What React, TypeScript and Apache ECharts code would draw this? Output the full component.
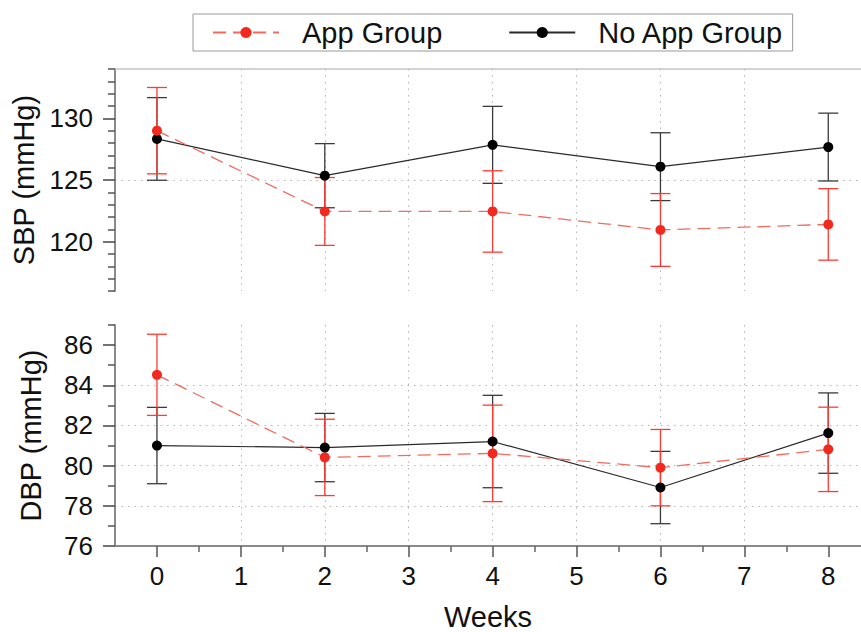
import { useEffect, useRef } from 'react';
import * as echarts from 'echarts';

const weeks = [0, 2, 4, 6, 8];
const sbpApp = [129.0, 122.45, 122.45, 120.95, 121.4];
const sbpAppErr = [3.5, 2.75, 3.3, 2.95, 2.9];
const sbpNoApp = [128.33, 125.35, 127.85, 126.08, 127.67];
const sbpNoAppErr = [3.35, 2.6, 3.12, 2.75, 2.75];
const dbpApp = [84.52, 80.41, 80.61, 79.9, 80.81];
const dbpAppErr = [2.02, 1.9, 2.4, 1.9, 2.1];
const dbpNoApp = [81.0, 80.9, 81.2, 78.91, 81.62];
const dbpNoAppErr = [1.9, 1.7, 2.3, 1.8, 2.0];

const xTicks = [0, 1, 2, 3, 4, 5, 6, 7, 8];
const xMinorTicks = [0.5, 1.5, 2.5, 3.5, 4.5, 5.5, 6.5, 7.5];
const sbpTicks = [120, 125, 130];
const sbpMinorTicks = [116, 117, 118, 119, 121, 122, 123, 124, 126, 127, 128, 129, 131, 132, 133, 134];
const dbpTicks = [76, 78, 80, 82, 84, 86];
const dbpMinorTicks = [77, 79, 81, 83, 85, 87];

const RED = '#f2291e';
const RED_LINE = '#f36a5f';
const RED_BAR = '#ff3a30';
const BLACK = '#000000';
const BLACK_LINE = '#2a2a2a';
const BLACK_BAR = '#3a3a3a';
const FONT = "'Liberation Sans', Arial, Helvetica, sans-serif";

function pairs(xs: number[], ys: number[]) {
  return xs.map((x, i) => [x, ys[i]]);
}
function bars(xs: number[], ys: number[], es: number[]) {
  return xs.map((x, i) => [x, ys[i] - es[i], ys[i] + es[i]]);
}

function errorSeries(name: string, data: number[][], color: string, xi: number, yi: number) {
  return {
    name,
    type: 'custom',
    xAxisIndex: xi,
    yAxisIndex: yi,
    data,
    encode: { x: 0, y: [1, 2] },
    z: 2,
    silent: true,
    renderItem: (_params: any, api: any) => {
      const x = api.value(0);
      const lo = api.coord([x, api.value(1)]);
      const hi = api.coord([x, api.value(2)]);
      const hw = 10;
      const style = { stroke: color, lineWidth: 1.3, fill: 'none' };
      return {
        type: 'group',
        children: [
          { type: 'line', shape: { x1: lo[0], y1: lo[1], x2: hi[0], y2: hi[1] }, style },
          { type: 'line', shape: { x1: lo[0] - hw, y1: lo[1], x2: lo[0] + hw, y2: lo[1] }, style },
          { type: 'line', shape: { x1: hi[0] - hw, y1: hi[1], x2: hi[0] + hw, y2: hi[1] }, style },
        ],
      };
    },
  };
}

function lineSeries(name: string, data: number[][], color: string, lineColor: string, dashed: boolean, xi: number, yi: number) {
  return {
    name,
    type: 'line',
    xAxisIndex: xi,
    yAxisIndex: yi,
    data,
    symbol: 'circle',
    symbolSize: 10,
    z: 3,
    itemStyle: { color },
    lineStyle: { color: lineColor, width: dashed ? 1.3 : 1.2, type: dashed ? [13, 7] : 'solid' },
  };
}

const gridSplit = { show: true, lineStyle: { color: '#b5b5b5', width: 1, type: [1.5, 5] }, showMinLine: false, showMaxLine: false };

export default function App() {
  const ref = useRef<HTMLDivElement>(null);
  useEffect(() => {
    if (!ref.current) return;
    const chart = echarts.init(ref.current, null, { renderer: 'svg' });
    const majorY = (ticks: number[]) => ({
      show: true,
      inside: false,
      length: 12,
      lineStyle: { color: '#444', width: 1.5 },
      customValues: ticks,
    });
    const minorY = (ticks: number[]) => ({
      show: true,
      inside: false,
      length: 7,
      lineStyle: { color: '#555', width: 1.5 },
      customValues: ticks,
    });
    const option: any = {
      animation: false,
      backgroundColor: '#ffffff',
      textStyle: { fontFamily: FONT },
      legend: {
        left: 193,
        top: 14,
        orient: 'horizontal',
        data: ['App Group', 'No App Group'],
        padding: [4, 9, 4, 19],
        itemGap: 66,
        itemWidth: 66,
        itemHeight: 14,
        borderColor: '#9a9a9a',
        borderWidth: 1,
        backgroundColor: '#ffffff',
        selectedMode: false,
        textStyle: { fontSize: 29, color: '#111', fontFamily: FONT, padding: [0, 8, 0, 18] },
      },
      grid: [
        { left: 115, top: 69, right: 0, height: 222 },
        { left: 115, top: 325, right: 0, height: 223 },
      ],
      xAxis: [
        {
          type: 'value',
          gridIndex: 0,
          position: 'top',
          min: -0.5,
          max: 8.39,
          splitNumber: 9,
          axisLine: { show: true, onZero: false, lineStyle: { color: '#c4c4c4', width: 1.5 } },
          axisTick: { show: false, customValues: xTicks },
          axisLabel: { show: false },
          splitLine: gridSplit,
        },
        {
          type: 'value',
          gridIndex: 1,
          position: 'bottom',
          min: -0.5,
          max: 8.39,
          splitNumber: 9,
          name: 'Weeks',
          nameLocation: 'middle',
          nameGap: 56,
          nameTextStyle: { fontSize: 29, color: '#111', fontFamily: FONT },
          axisLine: { show: true, onZero: false, lineStyle: { color: '#8a8a8a', width: 2 } },
          axisTick: { show: true, length: 11, lineStyle: { color: '#555', width: 1.5 }, customValues: xTicks },
          axisLabel: { show: true, fontSize: 26, color: '#111', margin: 17, fontFamily: FONT, customValues: xTicks },
          splitLine: gridSplit,
        },
        {
          type: 'value',
          gridIndex: 1,
          position: 'bottom',
          min: -0.5,
          max: 8.39,
          axisLine: { show: false, onZero: false },
          axisTick: { show: true, length: 6, lineStyle: { color: '#666', width: 1.5 }, customValues: xMinorTicks },
          axisLabel: { show: false },
          splitLine: { show: false },
        },
      ],
      yAxis: [
        {
          type: 'value',
          gridIndex: 0,
          position: 'left',
          min: 116,
          max: 134,
          splitNumber: 4,
          name: 'SBP (mmHg)',
          nameLocation: 'middle',
          nameGap: 70,
          nameTextStyle: { fontSize: 29, color: '#111', fontFamily: FONT },
          axisLine: { show: true, onZero: false, lineStyle: { color: '#8a8a8a', width: 2 } },
          axisTick: majorY(sbpTicks),
          axisLabel: { show: true, fontSize: 26, color: '#111', margin: 22, fontFamily: FONT, customValues: sbpTicks },
          splitLine: gridSplit,
        },
        {
          type: 'value',
          gridIndex: 1,
          position: 'left',
          min: 76,
          max: 87,
          splitNumber: 5,
          name: 'DBP (mmHg)',
          nameLocation: 'middle',
          nameGap: 70,
          nameTextStyle: { fontSize: 29, color: '#111', fontFamily: FONT },
          axisLine: { show: true, onZero: false, lineStyle: { color: '#8a8a8a', width: 2 } },
          axisTick: majorY(dbpTicks),
          axisLabel: { show: true, fontSize: 26, color: '#111', margin: 22, fontFamily: FONT, customValues: dbpTicks },
          splitLine: gridSplit,
        },
        {
          type: 'value',
          gridIndex: 0,
          position: 'left',
          offset: 0,
          min: 116,
          max: 134,
          axisLine: { show: false, onZero: false },
          axisTick: minorY(sbpMinorTicks),
          axisLabel: { show: false },
          splitLine: { show: false },
        },
        {
          type: 'value',
          gridIndex: 1,
          position: 'left',
          offset: 0,
          min: 76,
          max: 87,
          axisLine: { show: false, onZero: false },
          axisTick: minorY(dbpMinorTicks),
          axisLabel: { show: false },
          splitLine: { show: false },
        },
      ],
      series: [
        errorSeries('No App Group SD (SBP)', bars(weeks, sbpNoApp, sbpNoAppErr), BLACK_BAR, 0, 0),
        errorSeries('App Group SD (SBP)', bars(weeks, sbpApp, sbpAppErr), RED_BAR, 0, 0),
        errorSeries('No App Group SD (DBP)', bars(weeks, dbpNoApp, dbpNoAppErr), BLACK_BAR, 1, 1),
        errorSeries('App Group SD (DBP)', bars(weeks, dbpApp, dbpAppErr), RED_BAR, 1, 1),
        lineSeries('No App Group', pairs(weeks, sbpNoApp), BLACK, BLACK_LINE, false, 0, 0),
        lineSeries('App Group', pairs(weeks, sbpApp), RED, RED_LINE, true, 0, 0),
        lineSeries('No App Group', pairs(weeks, dbpNoApp), BLACK, BLACK_LINE, false, 1, 1),
        lineSeries('App Group', pairs(weeks, dbpApp), RED, RED_LINE, true, 1, 1),
      ],
    };
    chart.setOption(option);
    return () => chart.dispose();
  }, []);
  return (
    <div
      ref={ref}
      style={{ position: 'fixed', left: 0, top: 0, width: 861, height: 632, background: '#fff' }}
    />
  );
}
